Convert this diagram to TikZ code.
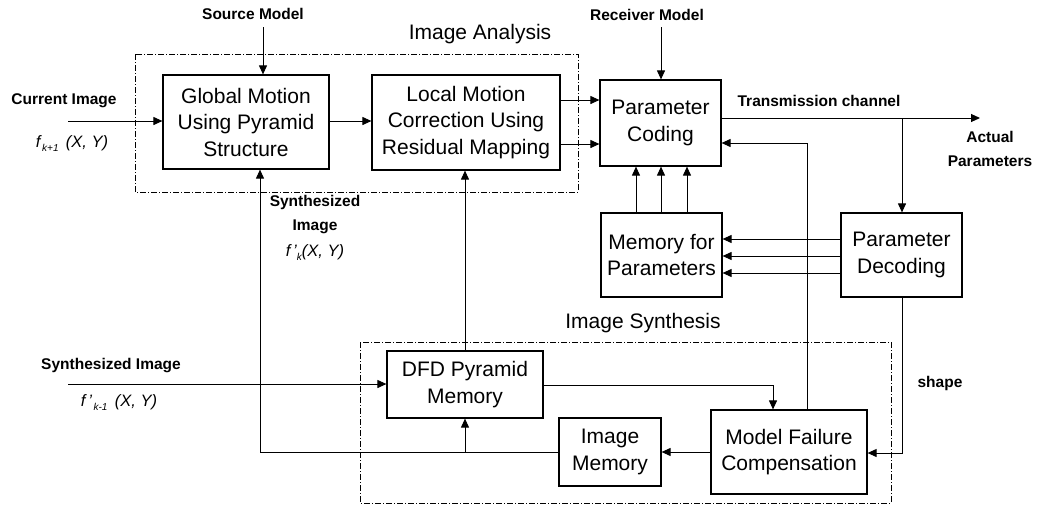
\documentclass[tikz,border=0pt]{standalone}
\usepackage{fontspec}
\setmainfont{Liberation Sans}
\usetikzlibrary{arrows.meta,calc}
\begin{document}
\begin{tikzpicture}[x=1pt,y=-1pt,
  box/.style={draw,line width=1.2pt,inner sep=0pt,align=center,font=\fontsize{21}{26.5}\selectfont},
  lbl/.style={inner sep=0pt,font=\fontsize{15.5}{24}\selectfont\bfseries,align=center},
  ttl/.style={inner sep=0pt,font=\fontsize{21}{24}\selectfont},
  mth/.style={inner sep=0pt,font=\fontsize{16.5}{24}\selectfont\itshape},
  con/.style={line width=1pt},
  arr/.style={line width=1pt,-{Triangle[length=9pt,width=8pt]}},
  grp/.style={line width=0.7pt,dash pattern=on 6pt off 2pt on 1pt off 2pt}]
\useasboundingbox (0,0) rectangle (1039,507);
% group frames
\draw[grp] (135,54) rectangle (578,192);
\draw[grp] (360,342) rectangle (891,503);
\node[ttl] (tia) at (480,34) {Image Analysis};
\node[ttl] (tis) at (643,323) {Image Synthesis};
% boxes
\node[box,minimum width=166pt,minimum height=94pt] (GM) at (246,122) {Global Motion\\Using Pyramid\\Structure};
\node[box,minimum width=188pt,minimum height=95pt] (LM) at (466,122.5) {Local Motion\\Correction Using\\Residual Mapping};
\node[box,minimum width=121pt,minimum height=86pt] (PC) at (660.5,123) {Parameter\\Coding};
\node[box,minimum width=121pt,minimum height=84pt] (MP) at (661.5,255) {Memory for\\Parameters};
\node[box,minimum width=121pt,minimum height=84pt] (PD) at (901.5,255) {Parameter\\Decoding};
\node[box,minimum width=156pt,minimum height=67pt] (DFD) at (465,384.5) {DFD Pyramid\\Memory};
\node[box,minimum width=102pt,minimum height=68pt] (IM) at (610,452) {Image\\Memory};
\node[box,minimum width=156pt,minimum height=84pt] (MFC) at (789,452) {Model Failure\\Compensation};
% labels
\node[lbl] (lsrc) at (253,14) {Source Model};
\node[lbl] (lrcv) at (647,15) {Receiver Model};
\node[lbl] (lcur) at (64,101) {Current Image};
\node[mth] (fk1) at (72,144) {f\raisebox{-4pt}{\fontsize{10}{12}\selectfont\,k+1}\, (X, Y)};
\node[lbl] (lsyn) at (315,228) {Synthesized\\Image\\[2pt]{\mdseries\itshape\fontsize{16.5}{20}\selectfont f\,'\raisebox{-4pt}{\fontsize{10}{12}\selectfont k}(X, Y)}};
\node[lbl] (ltx) at (819,101) {Transmission channel};
\node[lbl] (lact) at (990,149) {Actual\\Parameters};
\node[lbl] (lsyn2) at (111,366) {Synthesized Image};
\node[mth] (fkm1) at (119,403) {f\,'\raisebox{-4pt}{\fontsize{10}{12}\selectfont\,k-1}\, (X, Y)};
\node[lbl] (lshape) at (940,383) {shape};
% coordinates
\coordinate (s0) at (263,27);
\coordinate (r0) at (661,27);
\coordinate (ci) at (68,121);
\coordinate (si) at (68,384);
\coordinate (tx) at (980,118);
\coordinate (tb) at (902,118);
\coordinate (fb) at (807,143);
\coordinate (dr) at (773,385);
\coordinate (pr) at (902,453);
\coordinate (il) at (260,452);
\coordinate (ib) at (465,452);
% connectors
\draw[arr] (s0) -- (s0 |- GM.north);
\draw[arr] (r0) -- (r0 |- PC.north);
\draw[arr] (ci) -- (ci -| GM.west);
\draw[arr] (GM.east |- 0,121) -- (LM.west |- 0,121);
\draw[arr] (LM.east |- 0,100) -- (PC.west |- 0,100);
\draw[arr] (LM.east |- 0,144) -- (PC.west |- 0,144);
\draw[arr] (PC.east |- tx) -- (tx);
\draw[arr] (tb) -- (tb |- PD.north);
\draw[arr] (fb |- MFC.north) -- (fb) -- (fb -| PC.east);
\foreach \xx in {636,661,687} \draw[arr] (MP.north -| \xx,0) -- (PC.south -| \xx,0);
\foreach \yy in {239,256,273} \draw[arr] (PD.west |- 0,\yy) -- (MP.east |- 0,\yy);
\draw[arr] (DFD.north) -- (DFD.north |- LM.south);
\draw[arr] (si) -- (si -| DFD.west);
\draw[arr] (DFD.east |- dr) -- (dr) -- (dr |- MFC.north);
\draw[arr] (PD.south -| pr) -- (pr) -- (pr -| MFC.east);
\draw[arr] (MFC.west |- 0,452) -- (IM.east |- 0,452);
\draw[arr] (IM.west) -- (il) -- (il |- GM.south);
\draw[arr] (ib) -- (ib |- DFD.south);
\end{tikzpicture}
\end{document}
